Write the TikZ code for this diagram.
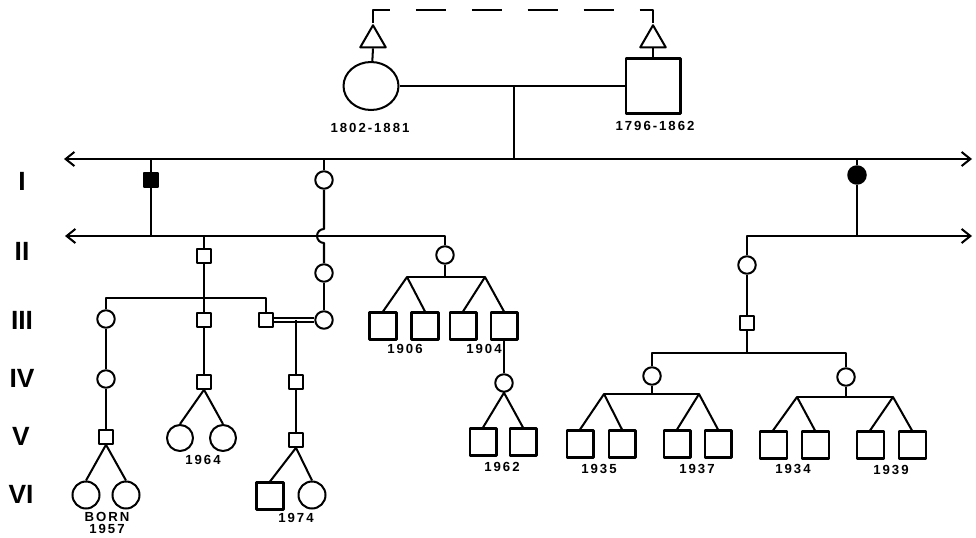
\documentclass[tikz,border=0pt]{standalone}
\usepackage{fontspec}
\setmainfont{Liberation Sans}
\newfontfamily\datefont{Liberation Sans}[LetterSpace=15]
\usepackage{tikz}
\usetikzlibrary{arrows.meta,calc,shapes.geometric}

\begin{document}
\begin{tikzpicture}[x=0.02cm,y=-0.02cm,>={Straight Barb[length=5pt,width=8pt]},line join=round,line width=1.15pt,
  fem/.style={circle,draw,fill=white,inner sep=0pt,minimum size=0.54cm},
  male/.style={rectangle,draw,fill=white,inner sep=0pt,minimum size=0.54cm},
  sfem/.style={fem,minimum size=0.35cm},
  smale/.style={male,minimum size=0.27cm},
  anc/.style={regular polygon,regular polygon sides=3,draw,inner sep=0pt,minimum size=0.59cm},
  yr/.style={font=\datefont\bfseries\fontsize{7.5}{8}\selectfont,inner sep=0pt,align=center},
  gen/.style={font=\bfseries\fontsize{15}{16}\selectfont,inner sep=0pt}]
  \useasboundingbox (0,0) rectangle (976,537);
  % founders
  \node[anc] (TL) at (373,40) {};
  \node[anc] (TR) at (653,40) {};
  \coordinate (DL) at (373,10);
  \coordinate (DR) at (653,10);
  \node[ellipse,draw,inner sep=0pt,minimum width=1.1cm,minimum height=0.96cm] (F0) at (371,86) {};
  \node[male,minimum size=1.1cm] (M0) at (653,86) {};
  \coordinate (C0) at (514,86);
  \node[yr] (d0) at (370,128) {1802-1881};
  \node[yr] (d1) at (655,126) {1796-1862};
  % generation lines
  \coordinate (LI0) at (64,159);
  \coordinate (LI1) at (972,159);
  \coordinate (LII0) at (65,236);
  \coordinate (LII1) at (972,236);
  % generation I
  \node[smale,fill=black] (MI1) at (151,180) {};
  \node[sfem] (FI1) at (324,180) {};
  \node[sfem,fill=black] (FI2) at (857,175) {};
  % generation II
  \node[smale] (MII1) at (204,256) {};
  \node[sfem] (FII2) at (324,273) {};
  \node[sfem] (FII3) at (445,255) {};
  \node[sfem] (FII4) at (747,265) {};
  % generation III
  \node[sfem] (FIII1) at (106,319) {};
  \node[smale] (MIII2) at (204,320) {};
  \node[smale] (MIII3) at (266,320) {};
  \node[sfem] (FIII4) at (324,320) {};
  \coordinate (S1) at (204,298);
  \coordinate (C3) at (296,320);
  \node[male] (MIII5) at (383,326) {};
  \node[male] (MIII6) at (425,326) {};
  \node[male] (MIII7) at (463,326) {};
  \node[male] (MIII8) at (504,326) {};
  \coordinate (S3a) at (407,277);
  \coordinate (S3b) at (485,277);
  \node[yr] (d2) at (405,349) {1906};
  \node[yr] (d3) at (484,349) {1904};
  \node[smale] (MIII9) at (747,323) {};
  \coordinate (S9) at (747,353);
  % generation IV
  \node[sfem] (FIV1) at (106,379) {};
  \node[smale] (MIV2) at (204,382) {};
  \node[smale] (MIV3) at (296,382) {};
  \node[sfem] (FIV8) at (504,383) {};
  \node[sfem] (FIV9) at (652,376) {};
  \node[sfem] (FIV10) at (846,377) {};
  \coordinate (S9a) at (604,394);
  \coordinate (S9b) at (699,394);
  \coordinate (S10a) at (797,397);
  \coordinate (S10b) at (893,397);
  % generation V
  \node[smale] (MV1) at (106,437) {};
  \node[fem,minimum size=0.52cm] (FV2a) at (180,438) {};
  \node[fem,minimum size=0.52cm] (FV2b) at (223,438) {};
  \node[yr] (d4) at (203,460) {1964};
  \node[smale] (MV3) at (296,440) {};
  \node[male] (MV8a) at (483,442) {};
  \node[male] (MV8b) at (523,442) {};
  \node[yr] (d5) at (502,467) {1962};
  \node[male] (MV9a) at (580,444) {};
  \node[male] (MV9b) at (622,444) {};
  \node[male] (MV9c) at (677,444) {};
  \node[male] (MV9d) at (718,444) {};
  \node[male] (MV10a) at (773,445) {};
  \node[male] (MV10b) at (815,445) {};
  \node[male] (MV10c) at (870,445) {};
  \node[male] (MV10d) at (912,445) {};
  \node[yr] (d6) at (599,469) {1935};
  \node[yr] (d7) at (697,469) {1937};
  \node[yr] (d8) at (793,469) {1934};
  \node[yr] (d9) at (891,470) {1939};
  % generation VI
  \node[fem] (FVI1) at (86,495) {};
  \node[fem] (FVI2) at (126,495) {};
  \node[yr] (d10) at (107,523) {BORN\\[-1pt]1957};
  \node[male] (MVI3) at (270,496) {};
  \node[fem] (FVI3) at (312,495) {};
  \node[yr] (d11) at (296,518) {1974};
  % roman numerals
  \node[gen] (g1) at (22,181) {I};
  \node[gen] (g2) at (22,251) {II};
  \node[gen] (g3) at (22,320) {III};
  \node[gen] (g4) at (22,378) {IV};
  \node[gen] (g5) at (21,436) {V};
  \node[gen] (g6) at (21,494) {VI};

  % connectors
  \draw[dash pattern=on 0.6cm off 0.52cm] (TL.north) -- (DL) -- (DR) -- (TR.north);
  \draw (TL.south) -- (F0);
  \draw (TR.south) -- (M0);
  \draw (F0) -- (M0);
  \draw (C0) -- (C0 |- LI0);
  \draw[<->] (LI0) -- (LI1);
  \draw[<-] (LII0) -| (FII3);
  \draw[->] (FII4) |- (LII1);
  \draw (MI1 |- LI0) -- (MI1) -- (MI1 |- LII0);
  \draw (FI2 |- LI0) -- (FI2) -- (FI2 |- LII0);
  \draw (FI1 |- LI0) -- (FI1);
  \draw (FI1) -- ($(FI1 |- LII0)+(0,-7)$) arc[start angle=90,end angle=270,radius=0.14cm] -- (FII2);
  \draw (FII2) -- (FIII4);
  \draw (MII1 |- LII0) -- (MII1) -- (MIII2);
  \draw (FIII1) |- (S1) -| (MIII3);
  \draw[double,double distance=1pt,line width=1pt] (MIII3) -- (FIII4);
  \draw (C3) -- (MIV3) -- (MV3);
  \draw (FIII1) -- (FIV1) -- (MV1);
  \draw (MIII2) -- (MIV2);
  \draw (FVI1.north) -- (MV1.south) -- (FVI2.north);
  \draw (FV2a.north) -- (MIV2.south) -- (FV2b.north);
  \draw (MVI3.north) -- (MV3.south) -- (FVI3.north);
  \draw (FII3) -- (FII3 |- S3a);
  \draw (S3a) -- (S3b);
  \draw (MIII5.north) -- (S3a) -- (MIII6.north);
  \draw (MIII7.north) -- (S3b) -- (MIII8.north);
  \draw (MIII8) -- (FIV8);
  \draw (MV8a.north) -- (FIV8.south) -- (MV8b.north);
  \draw (FII4) -- (MIII9) -- (S9);
  \draw (FIV9) |- (S9) -| (FIV10);
  \draw (FIV9) -- (FIV9 |- S9a);
  \draw (S9a) -- (S9b);
  \draw (MV9a.north) -- (S9a) -- (MV9b.north);
  \draw (MV9c.north) -- (S9b) -- (MV9d.north);
  \draw (FIV10) -- (FIV10 |- S10a);
  \draw (S10a) -- (S10b);
  \draw (MV10a.north) -- (S10a) -- (MV10b.north);
  \draw (MV10c.north) -- (S10b) -- (MV10d.north);
\end{tikzpicture}
\end{document}
